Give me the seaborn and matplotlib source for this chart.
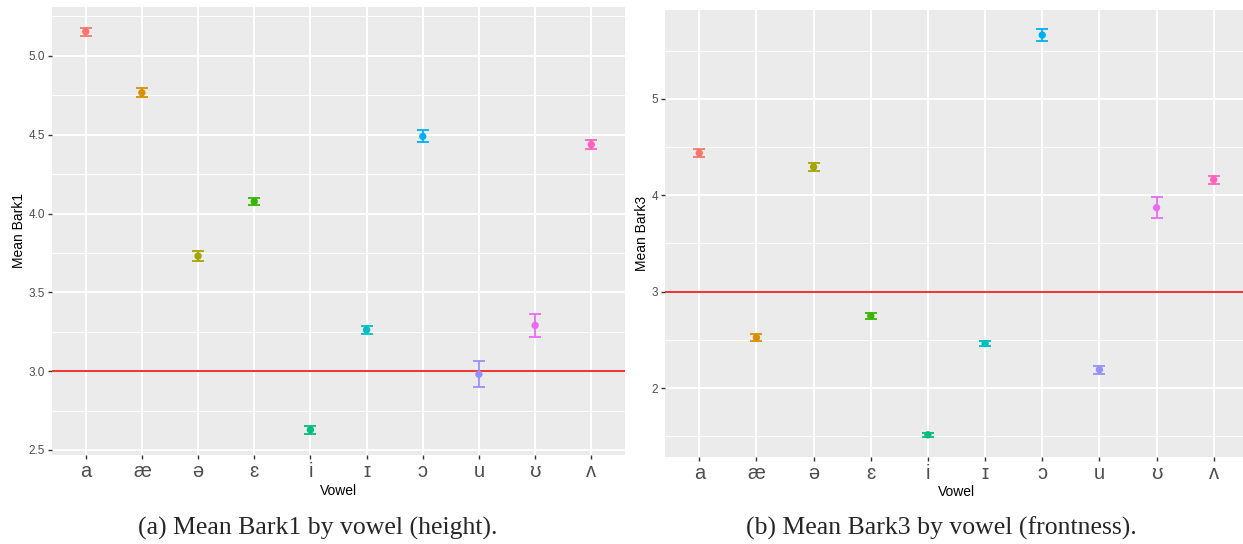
import matplotlib
matplotlib.use("Agg")
import matplotlib.pyplot as plt
import seaborn as sns
import pandas as pd
import numpy as np
from matplotlib.ticker import MultipleLocator

vowels = ["a", "æ", "ə", "ɛ", "i", "ɪ", "ɔ", "u", "ʊ", "ʌ"]
bark1_mean = [5.154, 4.766, 3.73, 4.076, 2.628, 3.262, 4.489, 2.98, 3.29, 4.437]
bark1_err = [0.025, 0.027, 0.034, 0.02, 0.027, 0.026, 0.038, 0.083, 0.073, 0.03]
bark3_mean = [4.437, 2.523, 4.292, 2.748, 1.515, 2.461, 5.66, 2.19, 3.87, 4.16]
bark3_err = [0.04, 0.033, 0.04, 0.033, 0.02, 0.022, 0.059, 0.041, 0.11, 0.04]
colors = ["#F8766D", "#D89000", "#A3A500", "#39B600", "#00BF7D",
          "#00BFC4", "#00B0F6", "#9590FF", "#E76BF3", "#FF62BC"]
captions = ["(a) Mean Bark1 by vowel (height).", "(b) Mean Bark3 by vowel (frontness)."]

sns.set_theme(style="darkgrid", rc={
    "axes.facecolor": "#EBEBEB", "grid.color": "white",
})
plt.rcParams["font.family"] = ["Liberation Sans", "DejaVu Sans"]

fig = plt.figure(figsize=(12.43, 5.44), dpi=100)
ax1 = fig.add_axes([52/1243, 1-455/544, 573/1243, 448/544])
ax2 = fig.add_axes([665/1243, 1-456.7/544, 583/1243, 446.7/544])

def panel(ax, means, errs, ylabel, ylim, major, minor, fmt):
    df = pd.DataFrame({"Vowel": vowels, "mean": means, "err": errs})
    pal = dict(zip(vowels, colors))
    sns.scatterplot(data=df, x="Vowel", y="mean", hue="Vowel", palette=pal,
                    s=28, edgecolor="none", legend=False, ax=ax, zorder=4)
    for i, (m, e) in enumerate(zip(means, errs)):
        ax.errorbar(i, m, yerr=e, fmt="none", ecolor=colors[i], elinewidth=1.3,
                    capsize=4.2, capthick=1.3, zorder=3)
    ax.axhline(3, color="#F0332F", lw=1.4, zorder=2)
    ax.set_xlim(-0.6, 9.6)
    ax.set_ylim(*ylim)
    ax.yaxis.set_major_locator(MultipleLocator(major))
    ax.yaxis.set_minor_locator(MultipleLocator(minor))
    ax.yaxis.set_major_formatter(matplotlib.ticker.FormatStrFormatter(fmt))
    ax.grid(which="major", color="white", lw=1.4)
    ax.grid(which="minor", axis="y", color="white", lw=0.7)
    ax.grid(which="minor", axis="x", visible=False)
    ax.set_axisbelow(True)
    for s in ax.spines.values():
        s.set_visible(False)
    ax.tick_params(axis="both", which="major", length=3, width=1, color="#333333",
                   pad=2, bottom=True, left=True)
    ax.tick_params(axis="y", which="minor", length=0)
    ax.tick_params(axis="y", labelsize=8.5, labelcolor="#4D4D4D")
    ax.tick_params(axis="x", labelsize=14.5, labelcolor="#4D4D4D")
    ax.set_xlabel("Vowel", fontsize=10, color="black", labelpad=2)
    ax.set_ylabel(ylabel, fontsize=10, color="black", labelpad=2)

panel(ax1, bark1_mean, bark1_err, "Mean Bark1", (2.468, 5.31), 0.5, 0.25, "%.1f")
panel(ax2, bark3_mean, bark3_err, "Mean Bark3", (1.288, 5.92), 1, 0.5, "%d")

fig.text(318/1243, 1-528/544, captions[0], ha="center", va="center",
         fontsize=18.5, family="Liberation Serif")
fig.text(941/1243, 1-528/544, captions[1], ha="center", va="center",
         fontsize=18.5, family="Liberation Serif")

fig.savefig("out.png", dpi=100)
